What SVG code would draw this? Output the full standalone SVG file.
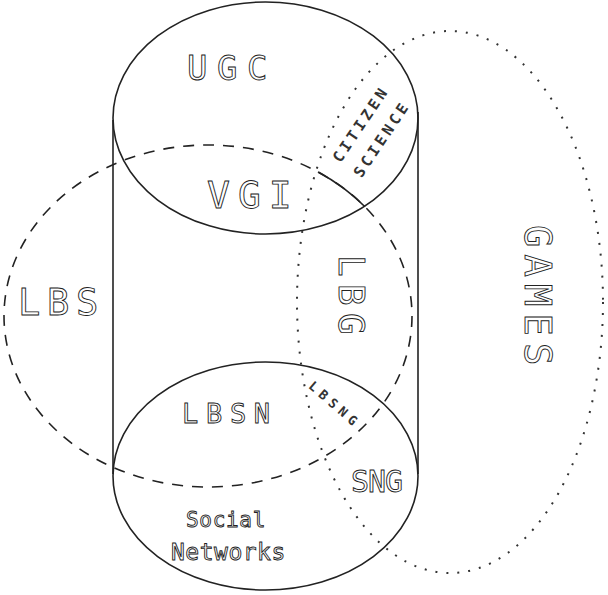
<svg xmlns="http://www.w3.org/2000/svg" width="608" height="595" viewBox="0 0 608 595">
<style>
.solid{fill:none;stroke:#222;stroke-width:1.6}
.dash{fill:none;stroke:#222;stroke-width:1.6;stroke-dasharray:11 9}
.dot{fill:none;stroke:#333;stroke-width:2;stroke-dasharray:2 9}
.lbl{font-family:"DejaVu Sans Mono","Liberation Mono",monospace;fill:#fff;stroke:#222;stroke-width:0.9}
.sm{font-family:"DejaVu Sans Mono","Liberation Mono",monospace;font-weight:bold;fill:#333}
</style>
<rect width="608" height="595" fill="#fff"/>
<g id="cylinder">
<ellipse class="solid" cx="265.5" cy="118" rx="152.5" ry="116"/>
<ellipse class="solid" cx="265.5" cy="476" rx="152.5" ry="114"/>
<line class="solid" x1="113" y1="120" x2="113" y2="474"/>
<line class="solid" x1="418" y1="112" x2="418" y2="474"/>
</g>
<g id="lbs">
<ellipse class="dash" cx="208" cy="316" rx="204" ry="171"/>
<path class="solid" d="M318,172 A204,171 0 0 1 365,206.8"/>
</g>
<g id="games">
<ellipse class="dot" cx="450" cy="302" rx="153" ry="271"/>
</g>
<g id="labels">
<text id="ugc" class="lbl" x="187" y="80" font-size="34" letter-spacing="9.5">UGC</text>
<text id="vgi" class="lbl" x="207" y="208" font-size="38" letter-spacing="8">VGI</text>
<text id="lbs-label" class="lbl" x="18" y="315" font-size="37" letter-spacing="6.7">LBS</text>
<text id="lbsn" class="lbl" x="182" y="423" font-size="27" letter-spacing="7.7">LBSN</text>
<text id="social" class="lbl" x="186" y="527" font-size="21" letter-spacing="0.7">Social</text>
<text id="networks" class="lbl" x="171" y="560" font-size="23" letter-spacing="0.5">Networks</text>
<text id="sng" class="lbl" x="351" y="492" font-size="30" letter-spacing="-1">SNG</text>
<text id="lbg" class="lbl" transform="translate(339,255) rotate(90)" font-size="36" letter-spacing="7.3">LBG</text>
<text id="games-label" class="lbl" transform="translate(525,225) rotate(90)" font-size="37" letter-spacing="7.2">GAMES</text>
<text id="citizen" class="sm" transform="translate(361,124) rotate(-56)" font-size="15" letter-spacing="3.6" text-anchor="middle" dominant-baseline="central">CITIZEN</text>
<text id="science" class="sm" transform="translate(382,139) rotate(-56)" font-size="15" letter-spacing="3.6" text-anchor="middle" dominant-baseline="central">SCIENCE</text>
<text id="lbsng" class="sm" transform="translate(335,405) rotate(41)" font-size="13" letter-spacing="5" text-anchor="middle" dominant-baseline="central">LBSNG</text>
</g>
</svg>
